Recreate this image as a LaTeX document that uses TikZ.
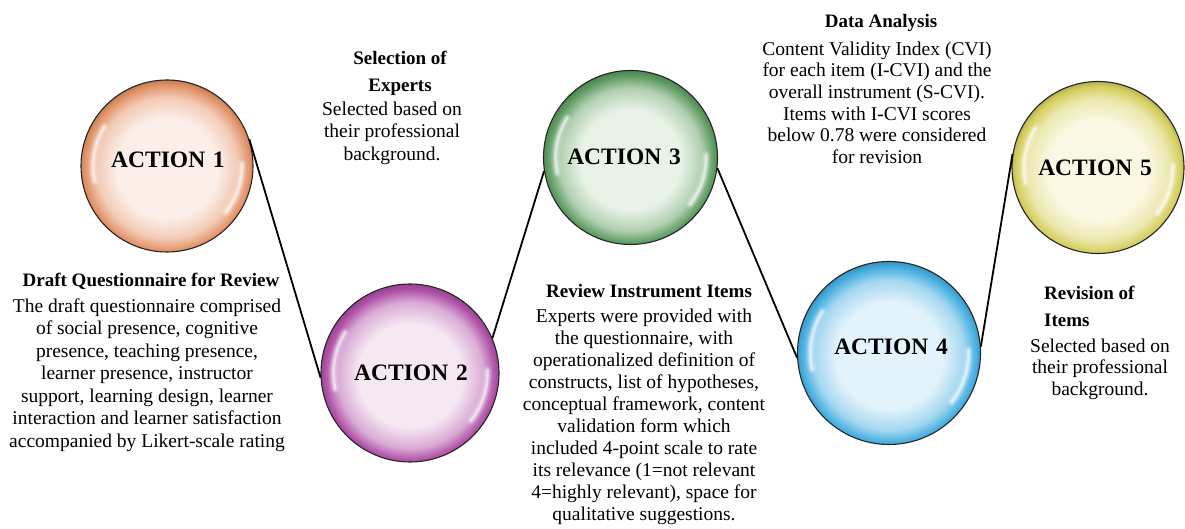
\documentclass[tikz,border=0pt]{standalone}
\usepackage{fontspec}
\setmainfont{Liberation Serif}

% palette of the five glossy balls: pale core and coloured rim
\definecolor{orIn}{HTML}{FCEFEA}\definecolor{orOut}{HTML}{E39468}
\definecolor{puIn}{HTML}{F5E8F3}\definecolor{puOut}{HTML}{B050A8}
\definecolor{grIn}{HTML}{E8F2E6}\definecolor{grOut}{HTML}{5E9C62}
\definecolor{blIn}{HTML}{E3F3FB}\definecolor{blOut}{HTML}{45AEE0}
\definecolor{yeIn}{HTML}{FAF8E3}\definecolor{yeOut}{HTML}{D6CF60}

% radial shading of a ball (25bp = rim): #1 name, #2 core colour, #3 rim colour
\newcommand\ballshading[3]{%
  \colorlet{#1-mid}{#3!40!#2}%
  \colorlet{#1-dk}{#3!80!black}%
  \pgfdeclareradialshading{#1}{\pgfpoint{0bp}{-1bp}}{%
    color(0bp)=(#2); color(14.5bp)=(#2); color(20.5bp)=(#1-mid);
    color(24bp)=(#3); color(26bp)=(#1-dk); color(50bp)=(#1-dk)}}
\ballshading{orBall}{orIn}{orOut}
\ballshading{puBall}{puIn}{puOut}
\ballshading{grBall}{grIn}{grOut}
\ballshading{blBall}{blIn}{blOut}
\ballshading{yeBall}{yeIn}{yeOut}

\tikzset{
  ball/.style={circle, inner sep=0pt, shading=#1, draw=black!85, line width=1.1pt},
  actionlabel/.style={font=\bfseries\fontsize{23.5}{26}\selectfont, inner sep=0pt},
  conn/.style={draw=black, line width=1.8pt},
  head/.style={font=\bfseries\fontsize{19}{27}\selectfont, inner sep=0pt, align=center},
  body/.style={font=\fontsize{19.5}{#1}\selectfont, inner sep=0pt, align=center, anchor=north},
}

\begin{document}
\begin{tikzpicture}[x=1pt, y=1pt]
\useasboundingbox (0,0) rectangle (1185,529);
\fill[white] (0,0) rectangle (1185,529);

% the five steps
\node[ball=orBall, minimum size=172pt] (c1) at (167,363) {};
\node[ball=puBall, minimum size=178pt] (c2) at (410,156) {};
\node[ball=grBall, minimum size=174pt] (c3) at (630.5,371.5) {};
\node[ball=blBall, minimum size=183pt] (c4) at (889,176) {};
\node[ball=yeBall, minimum size=172pt] (c5) at (1098,361.5) {};

% soft glossy highlights on each ball
\foreach \n/\r in {c1/86, c2/89, c3/87, c4/91.5, c5/86}{
  \foreach \w/\o in {9/0.12, 6/0.22, 3/0.5}{
    \draw[white, line width=\w pt, opacity=\o, line cap=round]
      (\n.center) ++(148:{0.86*\r}) arc[start angle=148, end angle=192, radius={0.86*\r}];
    \draw[white, line width=\w pt, opacity=\o, line cap=round]
      (\n.center) ++(2:{0.87*\r}) arc[start angle=2, end angle=-38, radius={0.87*\r}];
  }
}

\node[actionlabel] (l1) at (168,369) {ACTION\hspace{0.33em}1};
\node[actionlabel] (l2) at (411,156) {ACTION\hspace{0.33em}2};
\node[actionlabel] (l3) at (624,372) {ACTION\hspace{0.33em}3};
\node[actionlabel] (l4) at (891,182) {ACTION\hspace{0.33em}4};
\node[actionlabel] (l5) at (1095,361) {ACTION\hspace{0.33em}5};

% zig-zag path joining the steps
\draw[conn] (c1.18) -- (c2.183);
\draw[conn] (c2.23) -- (c3.189);
\draw[conn] (c3.-7) -- (c4.183);
\draw[conn] (c4.4) -- (c5.171);

% step descriptions
\node[head, anchor=base] (h1) at (151,242) {Draft Questionnaire for Review};
\node[body=22.5] (t1) at (147,232.75) {\strut The draft questionnaire comprised\\
  of social presence, cognitive\\ presence, teaching presence,\\
  learner presence, instructor\\ support, learning design, learner\\
  interaction and learner satisfaction\\ accompanied by Likert-scale rating};

\node[head, anchor=north] (h2) at (400,484) {\strut Selection of\\ Experts};
\node[body=22.5] (t2) at (392,429.75) {\strut Selected based on\\ their professional\\ background.};

\node[head, anchor=base] (h3) at (649,231) {Review Instrument Items};
\node[body=22] (t3) at (644,222.4) {\strut Experts were provided with\\
  the questionnaire, with\\ operationalized definition of\\
  constructs, list of hypotheses,\\ conceptual framework, content\\
  validation form which\\ included 4-point scale to rate\\
  its relevance (1=not relevant\\ 4=highly relevant), space for\\
  qualitative suggestions.};

\node[head, anchor=base] (h4) at (881,501) {Data Analysis};
\node[body=21.6] (t4) at (877,489.1) {\strut Content Validity Index (CVI)\\
  for each item (I-CVI) and the\\ overall instrument (S-CVI).\\
  Items with I-CVI scores\\ below 0.78 were considered\\ for revision};

\node[head, align=left, anchor=north west] (h5) at (1044,249) {\strut Revision of\\ Items};
\node[body=21.5] (t5) at (1100,192) {\strut Selected based on\\ their professional\\ background.};
\end{tikzpicture}
\end{document}
